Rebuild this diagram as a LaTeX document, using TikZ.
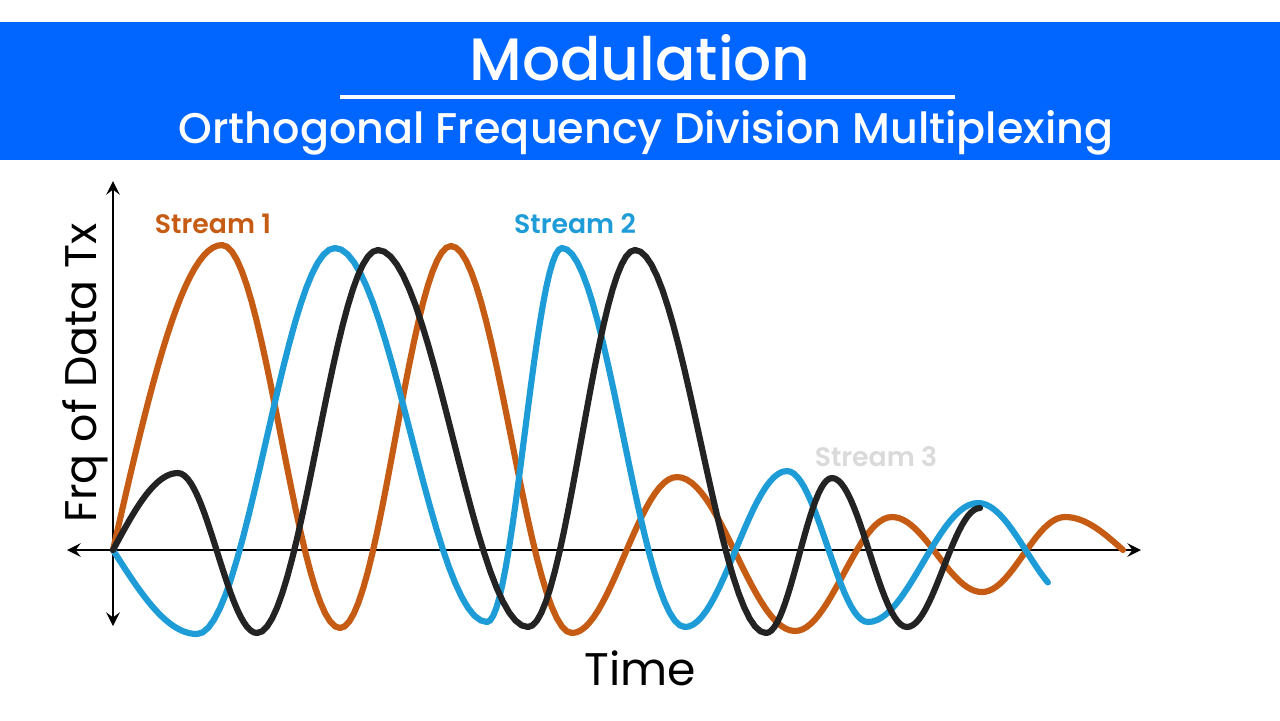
\documentclass[tikz,border=0pt]{standalone}
\usepackage{fontspec}
\setmainfont{Poppins}
\newfontfamily\medfont{Poppins Medium}
\newfontfamily\semifont{Poppins SemiBold}
\usepackage{tikz}
\usetikzlibrary{arrows}
\definecolor{banner}{RGB}{0,102,255}
\definecolor{sone}{RGB}{198,92,20}
\definecolor{stwo}{RGB}{30,156,216}
\definecolor{sthree}{RGB}{35,35,35}
\definecolor{faint}{RGB}{218,218,218}
\tikzstyle{axis} = [line width=0.7pt,<->,>=stealth]
\tikzstyle{wave} = [line width=1.75pt,line cap=round]
\tikzstyle{tag} = [font=\fontsize{7.6}{9}\selectfont\semifont]

\begin{document}
\begin{tikzpicture}[x=0.01cm,y=-0.01cm]
\useasboundingbox[fill=white] (0,0) rectangle (1280,720);
% title banner
\fill[banner] (0,22) rectangle (1280,160);
\node[white,font=\fontsize{17}{20}\selectfont\medfont] (title) at (640,58) {Modulation};
\draw[white,line width=1pt] (340,97) -- (955,97);
\node[white,font=\fontsize{12.2}{15}\selectfont\medfont] (subtitle) at (646,133) {Orthogonal Frequency Division Multiplexing};
% axes
\coordinate (top) at (113,181);
\coordinate (bottom) at (113,626);
\coordinate (left) at (67,550);
\coordinate (right) at (1141,550);
\draw[axis] (bottom) -- (top);
\draw[axis] (left) -- (right);
\node[rotate=90,font=\fontsize{12.6}{15}\selectfont] (ylab) at (85,373) {Frq of Data Tx};
\node[font=\fontsize{13}{15}\selectfont] (xlab) at (640,668) {Time};
% stream 1
\draw[wave,sone] plot[domain=0:1,samples=25] ({113+(222-113)*\x},{550+(245-550)*sin(90*\x)});
\foreach \xa/\ya/\xb/\yb in {222/245/340/628, 340/628/451/246, 451/246/572/633, 572/633/677/477,
  677/477/795/631, 795/631/892/517, 892/517/982/592, 982/592/1065/517}{
	\draw[wave,sone] plot[domain=0:1,samples=25] ({\xa+(\xb-\xa)*\x},{(\ya+\yb)/2+(\ya-\yb)/2*cos(180*\x)});
}
\draw[wave,sone] plot[domain=0:1,samples=20] ({1065+(1123-1065)*\x},{550+(517-550)*cos(90*\x)});
% stream 2
\draw[wave,stwo] plot[domain=0:1,samples=25] ({113+(197-113)*\x},{550+(634-550)*sin(90*\x)});
\foreach \xa/\ya/\xb/\yb in {197/634/335/248, 335/248/487/622, 487/622/562/248, 562/248/685/627,
  685/627/787/471, 787/471/868/622, 868/622/978/503}{
	\draw[wave,stwo] plot[domain=0:1,samples=25] ({\xa+(\xb-\xa)*\x},{(\ya+\yb)/2+(\ya-\yb)/2*cos(180*\x)});
}
\draw[wave,stwo] plot[domain=0:0.72,samples=20] ({978+(1075-978)*\x},{(503+600)/2+(503-600)/2*cos(180*\x)});
% stream 3
\draw[wave,sthree] plot[domain=0:1,samples=25] ({113+(178-113)*\x},{550+(473-550)*sin(90*\x)});
\foreach \xa/\ya/\xb/\yb in {178/473/257/633, 257/633/378/250, 378/250/528/627, 528/627/635/250,
  635/250/766/633, 766/633/832/478, 832/478/907/627, 907/627/980/508}{
	\draw[wave,sthree] plot[domain=0:1,samples=25] ({\xa+(\xb-\xa)*\x},{(\ya+\yb)/2+(\ya-\yb)/2*cos(180*\x)});
}
% labels
\node[tag,sone] (lone) at (213,224) {Stream 1};
\node[tag,stwo] (ltwo) at (575,224) {Stream 2};
\node[tag,faint] (lthree) at (876,457) {Stream 3};
\end{tikzpicture}
\end{document}
